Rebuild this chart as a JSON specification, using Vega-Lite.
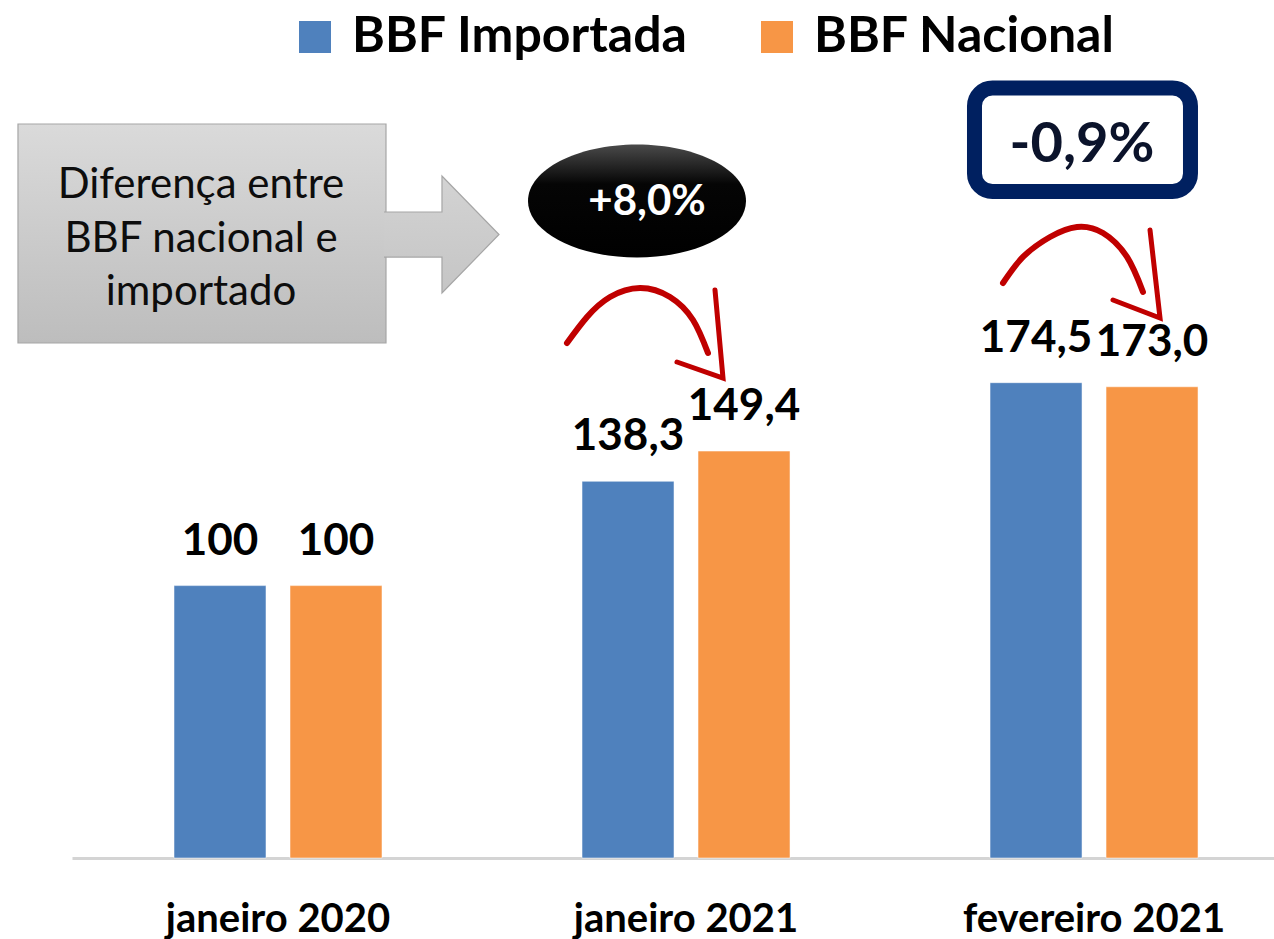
{
  "$schema": "https://vega.github.io/schema/vega-lite/v6.json",
  "width": 1202,
  "height": 858,
  "autosize": {"type": "none"},
  "padding": {"left": 72, "top": 0, "right": 0, "bottom": 81},
  "background": "white",
  "config": {"view": {"stroke": null}, "font": "Lato"},
  "datasets": {
    "barras": [
      {"periodo": "janeiro 2020", "serie": "BBF Importada", "indice": 100, "rotulo": "100"},
      {"periodo": "janeiro 2020", "serie": "BBF Nacional", "indice": 100, "rotulo": "100"},
      {"periodo": "janeiro 2021", "serie": "BBF Importada", "indice": 138.3, "rotulo": "138,3"},
      {"periodo": "janeiro 2021", "serie": "BBF Nacional", "indice": 149.4, "rotulo": "149,4"},
      {"periodo": "fevereiro 2021", "serie": "BBF Importada", "indice": 174.5, "rotulo": "174,5"},
      {"periodo": "fevereiro 2021", "serie": "BBF Nacional", "indice": 173.0, "rotulo": "173,0"}
    ],
    "caixa_cinza": [
      {"ax": -0.6373, "ax2": 0.2647, "ay": 269.48, "ay2": 189.07}
    ],
    "seta_cinza": [
      {"ax": 0.4032, "ay": 228.9}
    ],
    "texto_cinza": [
      {"linha": "Diferença entre", "ax": -0.1887, "ay": 242.31},
      {"linha": "BBF nacional e", "ax": -0.1887, "ay": 222.48},
      {"linha": "importado", "ax": -0.1887, "ay": 203.02}
    ],
    "elipse": [
      {"ax": 0.8799, "ay": 241.20, "txt": "+8,0%", "tx": 0.9044, "ty": 236.07}
    ],
    "caixa": [
      {"ax": 1.7071, "ax2": 2.2365, "ay": 282.69, "ay2": 244.69, "txt": "-0,9%", "tx": 1.9706, "ty": 255.52}
    ],
    "curvas": [
      {"seta": "a", "k": 1, "ax": 0.7083, "ay": 189.07},
      {"seta": "a", "k": 2, "ax": 0.7574, "ay": 198.62},
      {"seta": "a", "k": 3, "ax": 0.8137, "ay": 205.96},
      {"seta": "a", "k": 4, "ax": 0.8873, "ay": 209.27},
      {"seta": "a", "k": 5, "ax": 0.9608, "ay": 205.96},
      {"seta": "a", "k": 6, "ax": 1.0172, "ay": 197.52},
      {"seta": "a", "k": 7, "ax": 1.0539, "ay": 185.40},
      {"seta": "b", "k": 1, "ax": 1.7770, "ay": 211.10},
      {"seta": "b", "k": 2, "ax": 1.8260, "ay": 220.65},
      {"seta": "b", "k": 3, "ax": 1.8922, "ay": 227.99},
      {"seta": "b", "k": 4, "ax": 1.9583, "ay": 231.66},
      {"seta": "b", "k": 5, "ax": 2.0221, "ay": 229.46},
      {"seta": "b", "k": 6, "ax": 2.0809, "ay": 220.65},
      {"seta": "b", "k": 7, "ax": 2.1201, "ay": 207.80}
    ],
    "pontas": [
      {"seta": "a", "k": 1, "ax": 1.0711, "ay": 208.53},
      {"seta": "a", "k": 2, "ax": 1.0907, "ay": 176.22},
      {"seta": "a", "k": 3, "ax": 0.9779, "ay": 182.10},
      {"seta": "b", "k": 1, "ax": 2.1373, "ay": 230.56},
      {"seta": "b", "k": 2, "ax": 2.1618, "ay": 198.25},
      {"seta": "b", "k": 3, "ax": 2.0466, "ay": 204.86}
    ]
  },
  "resolve": {"scale": {"x": "independent"}},
  "layer": [
    {
      "data": {"name": "barras"},
      "encoding": {
        "x": {
          "field": "periodo", "type": "nominal", "sort": null,
          "scale": {"paddingInner": 0.1178, "paddingOuter": 0.0319, "align": 1, "round": false},
          "axis": {
            "title": null, "labelFont": "Lato", "labelFontSize": 40, "labelFontWeight": "bold",
            "labelColor": "#000000", "labelPadding": 73, "labelBaseline": "alphabetic",
            "labelLimit": 1000, "labelOverlap": false,
            "ticks": false, "tickSize": 0, "domainColor": "#d4d4d4", "domainWidth": 3,
            "grid": false, "labelAngle": 0
          }
        },
        "xOffset": {
          "field": "serie", "type": "nominal", "sort": null,
          "scale": {"paddingInner": 0.207, "paddingOuter": 0.655}
        },
        "y": {
          "field": "indice", "type": "quantitative",
          "scale": {"domain": [0, 315], "nice": false, "zero": true},
          "axis": null
        }
      },
      "layer": [
        {
          "mark": {"type": "bar", "stroke": "#ffffff", "strokeWidth": 1, "strokeOpacity": 0.5},
          "encoding": {
            "color": {
              "field": "serie", "type": "nominal",
              "scale": {"domain": ["BBF Importada", "BBF Nacional"], "range": ["#4f81bd", "#f79646"]},
              "legend": {
                "title": null, "orient": "none", "legendX": 218, "legendY": 12,
                "direction": "horizontal", "padding": 0,
                "symbolType": "square", "symbolSize": 1024, "symbolStrokeWidth": 0, "symbolOpacity": 1,
                "labelFont": "Lato", "labelFontSize": 50, "labelFontWeight": "bold",
                "labelColor": "#000000", "labelOffset": 12, "columnPadding": 63, "labelLimit": 500
              }
            }
          }
        },
        {
          "mark": {"type": "text", "baseline": "alphabetic", "align": "center", "dy": -31,
                   "font": "Lato", "fontSize": 44, "fontWeight": "bold", "color": "#000000"},
          "encoding": {"text": {"field": "rotulo"}}
        }
      ]
    },
    {
      "layer": [
        {
          "data": {"name": "caixa_cinza"},
          "mark": {
            "type": "rect", "stroke": "#a6a6a6", "strokeWidth": 1.2,
            "fill": {"gradient": "linear", "x1": 0, "y1": 0, "x2": 0, "y2": 1,
                     "stops": [{"offset": 0, "color": "#dadada"}, {"offset": 1, "color": "#bdbdbd"}]}
          },
          "encoding": {
            "x": {"field": "ax", "type": "quantitative", "scale": {"domain": [-0.5049, 2.4412], "nice": false, "zero": false}, "axis": null},
            "x2": {"field": "ax2"},
            "y": {"field": "ay", "type": "quantitative", "scale": {"domain": [0, 315], "nice": false}, "axis": null},
            "y2": {"field": "ay2"}
          }
        },
        {
          "data": {"name": "seta_cinza"},
          "mark": {
            "type": "point", "filled": true, "size": 13689, "opacity": 1,
            "stroke": "#a6a6a6", "strokeWidth": 1.2, "strokeOpacity": 1,
            "shape": "M -1.0 0.385 L -0.009 0.385 L -0.009 1 L 0.966 0 L -0.009 -1 L -0.009 -0.385 L -1.0 -0.385",
            "fill": {"gradient": "linear", "x1": 0, "y1": 0, "x2": 0, "y2": 1,
                     "stops": [{"offset": 0, "color": "#d3d3d3"}, {"offset": 1, "color": "#c5c5c5"}]}
          },
          "encoding": {
            "x": {"field": "ax", "type": "quantitative", "axis": null},
            "y": {"field": "ay", "type": "quantitative", "axis": null}
          }
        },
        {
          "data": {"name": "texto_cinza"},
          "mark": {"type": "text", "align": "center", "baseline": "alphabetic", "font": "Lato",
                   "fontSize": 42, "fontWeight": "normal", "color": "#0d0d0d"},
          "encoding": {
            "x": {"field": "ax", "type": "quantitative", "axis": null},
            "y": {"field": "ay", "type": "quantitative", "axis": null},
            "text": {"field": "linha"}
          }
        },
        {
          "data": {"name": "elipse"},
          "mark": {
            "type": "point", "filled": true, "size": 47524, "opacity": 1, "strokeWidth": 0,
            "shape": "M -1 0 C -1 -0.286 -0.5523 -0.518 0 -0.518 C 0.5523 -0.518 1 -0.286 1 0 C 1 0.286 0.5523 0.518 0 0.518 C -0.5523 0.518 -1 0.286 -1 0 Z",
            "fill": {"gradient": "linear", "x1": 0, "y1": 0, "x2": 0, "y2": 1,
                     "stops": [{"offset": 0, "color": "#4a4a4a"}, {"offset": 0.35, "color": "#050505"}, {"offset": 1, "color": "#000000"}]}
          },
          "encoding": {
            "x": {"field": "ax", "type": "quantitative", "axis": null},
            "y": {"field": "ay", "type": "quantitative", "axis": null}
          }
        },
        {
          "data": {"name": "elipse"},
          "mark": {"type": "text", "align": "center", "baseline": "alphabetic", "font": "Lato",
                   "fontSize": 42, "fontWeight": "bold", "color": "#ffffff"},
          "encoding": {
            "x": {"field": "tx", "type": "quantitative", "axis": null},
            "y": {"field": "ty", "type": "quantitative", "axis": null},
            "text": {"field": "txt"}
          }
        },
        {
          "data": {"name": "caixa"},
          "mark": {"type": "rect", "fill": "#ffffff", "stroke": "#002060", "strokeWidth": 15, "cornerRadius": 18},
          "encoding": {
            "x": {"field": "ax", "type": "quantitative", "axis": null},
            "x2": {"field": "ax2"},
            "y": {"field": "ay", "type": "quantitative", "axis": null},
            "y2": {"field": "ay2"}
          }
        },
        {
          "data": {"name": "caixa"},
          "mark": {"type": "text", "align": "center", "baseline": "alphabetic", "font": "Lato",
                   "fontSize": 56, "fontWeight": "bold", "color": "#0b132b"},
          "encoding": {
            "x": {"field": "tx", "type": "quantitative", "axis": null},
            "y": {"field": "ty", "type": "quantitative", "axis": null},
            "text": {"field": "txt"}
          }
        },
        {
          "data": {"name": "curvas"},
          "mark": {"type": "line", "interpolate": "natural", "color": "#c00000", "strokeWidth": 6, "strokeCap": "round"},
          "encoding": {
            "x": {"field": "ax", "type": "quantitative", "axis": null},
            "y": {"field": "ay", "type": "quantitative", "axis": null},
            "detail": {"field": "seta", "type": "nominal"},
            "order": {"field": "k", "type": "quantitative"}
          }
        },
        {
          "data": {"name": "pontas"},
          "mark": {"type": "line", "interpolate": "linear", "color": "#c00000", "strokeWidth": 5, "strokeCap": "round", "strokeJoin": "miter"},
          "encoding": {
            "x": {"field": "ax", "type": "quantitative", "axis": null},
            "y": {"field": "ay", "type": "quantitative", "axis": null},
            "detail": {"field": "seta", "type": "nominal"},
            "order": {"field": "k", "type": "quantitative"}
          }
        }
      ]
    }
  ]
}
